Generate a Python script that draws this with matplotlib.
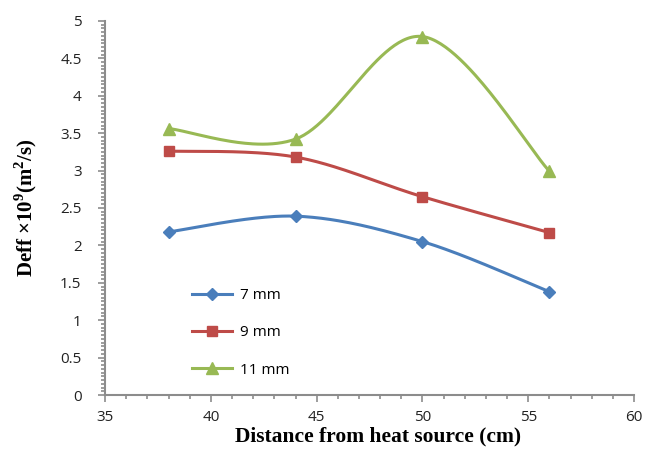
import numpy as np
import matplotlib
matplotlib.use("Agg")
import matplotlib.pyplot as plt
from matplotlib.lines import Line2D
from matplotlib.ticker import MultipleLocator

# Data
distance = [38, 44, 50, 56]
series_names = ["7 mm", "9 mm", "11 mm"]
deff_7mm = [2.18, 2.39, 2.05, 1.38]
deff_9mm = [3.26, 3.18, 2.65, 2.17]
deff_11mm = [3.56, 3.42, 4.79, 2.99]

colors = ["#4a7ebb", "#be4b48", "#98b954"]
markers = ["D", "s", "^"]
marker_sizes = [6, 7, 8]

plt.rcParams["mathtext.fontset"] = "custom"
plt.rcParams["mathtext.rm"] = "Liberation Serif:bold"
plt.rcParams["mathtext.bf"] = "Liberation Serif:bold"


def smooth(x, y, n=60):
    # Excel-style smoothed line: cubic Bezier through each point pair
    x = np.asarray(x, float)
    y = np.asarray(y, float)
    px = np.concatenate([[x[0]], x, [x[-1]]])
    py = np.concatenate([[y[0]], y, [y[-1]]])
    t = np.linspace(0, 1, n)[:, None]
    xs, ys = [], []
    for i in range(1, len(px) - 2):
        p0 = np.array([px[i], py[i]])
        p3 = np.array([px[i + 1], py[i + 1]])
        c1 = p0 + (p3 - np.array([px[i - 1], py[i - 1]])) / 6
        c2 = p3 - (np.array([px[i + 2], py[i + 2]]) - p0) / 6
        pts = ((1 - t) ** 3) * p0 + 3 * ((1 - t) ** 2) * t * c1 \
            + 3 * (1 - t) * t ** 2 * c2 + t ** 3 * p3
        xs.append(pts[:, 0])
        ys.append(pts[:, 1])
    return np.concatenate(xs), np.concatenate(ys)


fig = plt.figure(figsize=(6.49, 4.53), dpi=100)
ax = fig.add_axes([0.162, 0.128, 0.815, 0.826])

handles = []
for vals, name, c, m, ms in zip([deff_7mm, deff_9mm, deff_11mm], series_names,
                               colors, markers, marker_sizes):
    sx, sy = smooth(distance, vals)
    ax.plot(sx, sy, color=c, linewidth=2.2, solid_capstyle="round")
    ax.plot(distance, vals, linestyle="none", marker=m, markersize=ms,
            color=c, markeredgecolor=c)
    handles.append(Line2D([], [], color=c, linewidth=2.2, marker=m,
                          markersize=ms, markeredgecolor=c, label=name))

ax.set_xlim(35, 60)
ax.set_ylim(0, 5)
ax.xaxis.set_major_locator(MultipleLocator(5))
ax.xaxis.set_minor_locator(MultipleLocator(1))
ax.yaxis.set_major_locator(MultipleLocator(0.5))
ax.yaxis.set_minor_locator(MultipleLocator(0.05))
ax.yaxis.set_major_formatter(plt.FuncFormatter(lambda v, p: f"{v:g}"))

for side in ["top", "right"]:
    ax.spines[side].set_visible(False)
for side in ["left", "bottom"]:
    ax.spines[side].set_color("#8c8c8c")
    ax.spines[side].set_linewidth(1.5)

ax.tick_params(which="both", direction="out", color="#8c8c8c", width=1.2,
               labelsize=11, labelcolor="#222222")
ax.tick_params(which="major", length=5)
ax.tick_params(axis="y", which="major", pad=12)
ax.tick_params(axis="x", which="major", pad=6)
ax.tick_params(which="minor", length=3)
for lbl in ax.get_xticklabels() + ax.get_yticklabels():
    lbl.set_family("Open Sans")

ax.set_xlabel("Distance from heat source (cm)", family="Liberation Serif",
              fontweight="bold", fontsize=15.5, labelpad=2)
ax.xaxis.set_label_coords(0.516, -0.085)
ax.set_ylabel(r"Deff ×10$^{9}$(m$^{2}$/s)", family="Liberation Serif",
              fontweight="bold", fontsize=15, labelpad=15)

leg = ax.legend(handles=handles, loc="center left",
                bbox_to_anchor=(0.165, 0.166), frameon=False,
                handlelength=2.6, labelspacing=1.45,
                borderpad=0, borderaxespad=0, handletextpad=0.5,
                prop={"family": "Open Sans", "size": 11})

fig.savefig("out.png", dpi=100)
